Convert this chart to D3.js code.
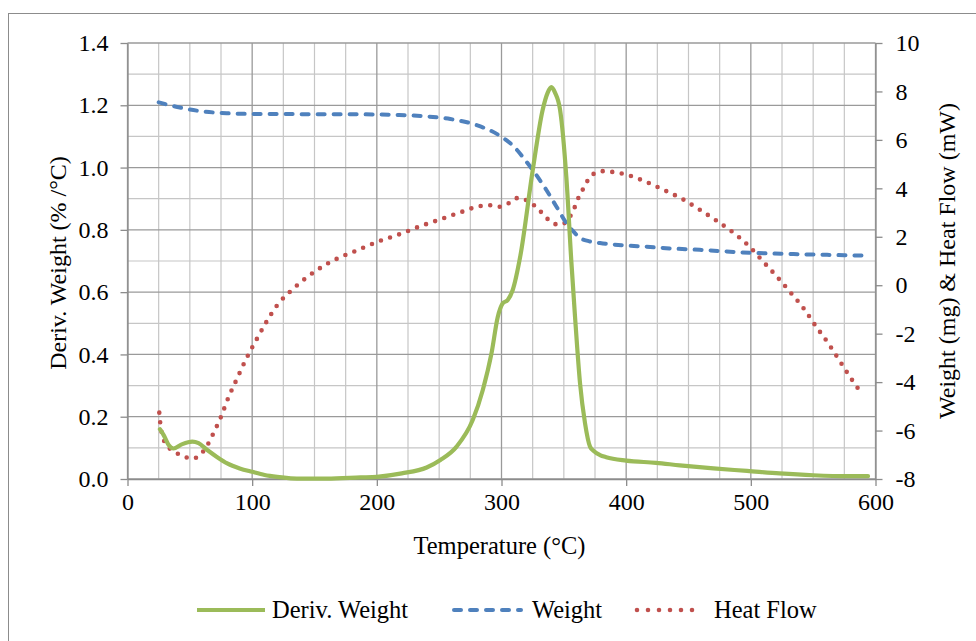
<!DOCTYPE html>
<html>
<head>
<meta charset="utf-8">
<script src="https://cdn.jsdelivr.net/npm/d3@7"></script>
<style>
  body { margin: 0; background: #fff; }
  text { font-family: "Liberation Serif", "Times New Roman", serif; fill: #000; }
</style>
</head>
<body>
<div id="chart-area"></div>
<script>
// Temperature (°C) vs derivative weight (%/°C)
var derivTemp = [26, 29, 33, 37, 44, 52, 57, 64, 72, 80, 90, 100, 110, 120, 140, 160, 187, 200, 220, 240,
  251, 264, 277, 285, 292, 297, 301, 305, 309, 315, 325, 333, 337, 340, 343, 347, 352, 356, 359, 363,
  367, 371, 374, 379, 384, 400, 424, 443, 470, 497, 523, 550, 577, 594];
var derivValue = [0.16, 0.141, 0.109, 0.098, 0.112, 0.12, 0.115, 0.093, 0.07, 0.05, 0.034, 0.023, 0.013, 0.007, 0.001, 0.001, 0.005, 0.007, 0.018, 0.037,
  0.061, 0.104, 0.19, 0.286, 0.404, 0.52, 0.564, 0.575, 0.607, 0.714, 0.99, 1.185, 1.24, 1.258, 1.24, 1.185, 0.97, 0.70, 0.52, 0.307,
  0.179, 0.104, 0.09, 0.077, 0.07, 0.059, 0.052, 0.044, 0.034, 0.026, 0.018, 0.012, 0.009, 0.009];

// weight (mg), right axis
var weightTemp = [25, 39, 58, 80, 101, 162, 200, 218, 240, 259, 280, 299, 310, 320, 336, 344, 352, 358, 363, 370,
  379, 400, 416, 432, 459, 499, 539, 593];
var weightValue = [7.55, 7.37, 7.19, 7.10, 7.07, 7.06, 7.05, 7.03, 6.97, 6.86, 6.61, 6.16, 5.72, 5.1, 3.93, 3.25, 2.57, 2.2, 1.95, 1.82,
  1.74, 1.64, 1.59, 1.53, 1.46, 1.34, 1.28, 1.22];

// heat flow (mW), right axis
var heatTemp = [25.5, 26.3, 27.5, 30.5, 37, 44, 52, 59, 64, 68, 75, 81, 88, 95, 103, 111, 120, 132, 145, 158,
  173, 181, 190, 200, 220, 235, 251, 267, 283, 291, 299, 306, 313, 321, 328, 334, 340, 347, 354, 358,
  361, 365, 369, 374, 382, 390, 399, 414, 429, 444, 458, 472, 486, 499, 510, 521, 532, 543, 552, 562,
  571, 580, 590];
var heatValue = [-5.26, -5.70, -6.12, -6.53, -6.85, -7.04, -7.16, -6.96, -6.61, -6.21, -5.43, -4.63, -3.84, -3.06, -2.29, -1.55, -0.83, -0.19, 0.37, 0.82,
  1.21, 1.37, 1.57, 1.78, 2.14, 2.44, 2.72, 3.01, 3.27, 3.30, 3.24, 3.39, 3.60, 3.48, 3.22, 2.90, 2.60, 2.49, 2.76, 3.13,
  3.53, 3.93, 4.31, 4.60, 4.71, 4.67, 4.58, 4.31, 3.96, 3.59, 3.15, 2.68, 2.17, 1.59, 0.97, 0.35, -0.31, -1.00, -1.68, -2.39,
  -3.10, -3.82, -4.55];

var xTicks = [0, 100, 200, 300, 400, 500, 600];
var leftTicks = [0, 0.2, 0.4, 0.6, 0.8, 1.0, 1.2, 1.4];
var rightTicks = [-8, -6, -4, -2, 0, 2, 4, 6, 8, 10];

var seriesNames = ["Deriv. Weight", "Weight", "Heat Flow"];

var W = 976, H = 641;
var margin = {left: 127.5, right: 100.5, top: 43, bottom: 162};
var width = W - margin.left - margin.right;
var height = H - margin.top - margin.bottom;

var svg = d3.select("#chart-area").append("svg")
  .attr("width", W)
  .attr("height", H);

// outer frame
svg.append("rect")
  .attr("x", 8.5).attr("y", 13.5)
  .attr("width", 1000).attr("height", 700)
  .attr("fill", "none").attr("stroke", "#8c8c8c").attr("stroke-width", 1);

var g = svg.append("g")
  .attr("transform", "translate(" + margin.left + "," + margin.top + ")");

var x = d3.scaleLinear().domain([0, 600]).range([0, width]);
var yL = d3.scaleLinear().domain([0, 1.4]).range([height, 0]);
var yR = d3.scaleLinear().domain([-8, 10]).range([height, 0]);

// grid
var minorX = d3.range(0, 601, 25).filter(function(d) { return d % 100 !== 0; });
var minorY = d3.range(1, 14, 2).map(function(d) { return d / 10; });

g.selectAll(".gx-minor").data(minorX).enter().append("line")
  .attr("x1", function(d) { return x(d); }).attr("x2", function(d) { return x(d); })
  .attr("y1", 0).attr("y2", height)
  .attr("stroke", "#c6c6c6").attr("stroke-width", 1.2);
g.selectAll(".gy-minor").data(minorY).enter().append("line")
  .attr("x1", 0).attr("x2", width)
  .attr("y1", function(d) { return yL(d); }).attr("y2", function(d) { return yL(d); })
  .attr("stroke", "#c6c6c6").attr("stroke-width", 1.2);
g.selectAll(".gx-major").data(xTicks).enter().append("line")
  .attr("x1", function(d) { return x(d); }).attr("x2", function(d) { return x(d); })
  .attr("y1", 0).attr("y2", height)
  .attr("stroke", "#9a9a9a").attr("stroke-width", 1.3);
g.selectAll(".gy-major").data(leftTicks).enter().append("line")
  .attr("x1", 0).attr("x2", width)
  .attr("y1", function(d) { return yL(d); }).attr("y2", function(d) { return yL(d); })
  .attr("stroke", "#9a9a9a").attr("stroke-width", 1.3);

// axes
function styleAxis(sel) {
  sel.attr("font-family", null);
  sel.select(".domain").attr("stroke", "#8c8c8c").attr("stroke-width", 1.3);
  sel.selectAll(".tick line").attr("stroke", "#8c8c8c").attr("stroke-width", 1.3);
  sel.selectAll(".tick text")
    .attr("font-size", 24).attr("fill", "#000");
}

g.append("g")
  .attr("transform", "translate(0," + height + ")")
  .call(d3.axisBottom(x).tickValues(xTicks).tickSize(7).tickSizeOuter(0).tickPadding(7))
  .call(styleAxis);

g.append("g")
  .call(d3.axisLeft(yL).tickValues(leftTicks).tickFormat(d3.format(".1f")).tickSize(7).tickSizeOuter(0).tickPadding(12))
  .call(styleAxis);

// plain hyphen for negatives, as in the original
g.append("g")
  .attr("transform", "translate(" + width + ",0)")
  .call(d3.axisRight(yR).tickValues(rightTicks).tickFormat(function(d) { return String(d); }).tickSize(7).tickSizeOuter(0).tickPadding(13))
  .call(styleAxis);

// titles
g.append("text")
  .attr("x", width / 2 - 2).attr("y", height + 75)
  .attr("text-anchor", "middle").attr("font-size", 24.5)
  .text("Temperature (°C)");

g.append("text")
  .attr("transform", "translate(" + (-62) + "," + (height / 2 + 2) + ") rotate(-90)")
  .attr("text-anchor", "middle").attr("font-size", 24)
  .text("Deriv. Weight (% /°C)");

g.append("text")
  .attr("transform", "translate(" + (width + 79) + "," + (height / 2) + ") rotate(-90)")
  .attr("text-anchor", "middle").attr("font-size", 24)
  .text("Weight (mg) & Heat Flow (mW)");

// series
var lineL = d3.line()
  .x(function(d) { return x(d[0]); })
  .y(function(d) { return yL(d[1]); })
  .curve(d3.curveMonotoneX);
var lineR = d3.line()
  .x(function(d) { return x(d[0]); })
  .y(function(d) { return yR(d[1]); })
  .curve(d3.curveMonotoneX);

var heatData = d3.zip(heatTemp, heatValue);
var weightData = d3.zip(weightTemp, weightValue);
var derivData = d3.zip(derivTemp, derivValue);

g.append("path")
  .attr("d", lineR(heatData))
  .attr("fill", "none").attr("stroke", "#C0504D")
  .attr("stroke-width", 4.6).attr("stroke-linecap", "round")
  .attr("stroke-dasharray", "0,9.6");

g.append("path")
  .attr("d", lineR(weightData))
  .attr("fill", "none").attr("stroke", "#4F81BD")
  .attr("stroke-width", 4).attr("stroke-linecap", "round")
  .attr("stroke-dasharray", "7,9");

g.append("path")
  .attr("d", lineL(derivData))
  .attr("fill", "none").attr("stroke", "#9BBB59")
  .attr("stroke-width", 4.2).attr("stroke-linejoin", "round").attr("stroke-linecap", "round");

// legend
var legendY = 610;
var legendItems = [
  {name: seriesNames[0], x0: 197, x1: 265, tx: 272, color: "#9BBB59", dash: null, w: 4.2},
  {name: seriesNames[1], x0: 454, x1: 521, tx: 532, color: "#4F81BD", dash: "7,9", w: 4},
  {name: seriesNames[2], x0: 637, x1: 703, tx: 714, color: "#C0504D", dash: "0,11", w: 4.6}
];
var lg = svg.append("g");
legendItems.forEach(function(it) {
  lg.append("line")
    .attr("x1", it.x0).attr("x2", it.x1)
    .attr("y1", legendY).attr("y2", legendY)
    .attr("stroke", it.color).attr("stroke-width", it.w)
    .attr("stroke-linecap", it.dash ? "round" : "butt")
    .attr("stroke-dasharray", it.dash);
  lg.append("text")
    .attr("x", it.tx).attr("y", legendY + 8)
    .attr("font-size", 24.5)
    .text(it.name);
});
</script>
</body>
</html>
